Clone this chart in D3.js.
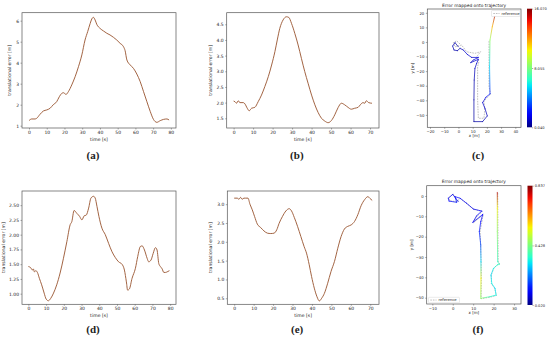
<!DOCTYPE html>
<html>
<head>
<meta charset="utf-8">
<script src="https://cdn.jsdelivr.net/npm/d3@7"></script>
<style>
  html, body { margin: 0; padding: 0; background: #fff; }
  svg text { font-family: 'DejaVu Sans', sans-serif; fill: #222; }
  .caption { font-family: 'Liberation Serif', serif; font-weight: bold; font-size: 11px; }
</style>
</head>
<body>
<svg id="chart" width="550" height="342"></svg>
<script>
// (a) translational error over time
const timeA = [0, 1.5, 3.4, 4.3, 6.2, 8.1, 10, 11.9, 13.7, 15.6, 17.1, 18.5, 19.4, 20.9, 22.2, 24.1, 26, 27.9, 29.8, 31.6, 33.1, 34.5, 35.4, 36.3, 37.3, 38.2, 40.1, 42, 43.9, 45.7, 47.6, 49.5, 51.4, 53.3, 54.2, 55.2, 57.1, 58.9, 60.8, 62.7, 64.6, 66.5, 68.4, 70.2, 72.1, 74, 75.9, 77.8, 79]
const errA = [1.24, 1.32, 1.32, 1.35, 1.54, 1.7, 1.75, 1.83, 2.0, 2.14, 2.38, 2.54, 2.57, 2.49, 2.62, 2.94, 3.33, 3.81, 4.37, 5.08, 5.48, 5.87, 6.08, 6.16, 6.03, 5.83, 5.63, 5.51, 5.4, 5.32, 5.21, 5.08, 4.92, 4.76, 4.57, 4.13, 3.89, 3.73, 3.46, 3.1, 2.62, 2.14, 1.67, 1.3, 1.16, 1.24, 1.3, 1.32, 1.27]

// (b)
const timeB = [0, 0.7, 1.5, 2.4, 3.2, 5, 5.8, 7, 8, 9.2, 10.9, 12.6, 14.3, 16, 17.8, 19.5, 21.2, 22.4, 23.7, 25.4, 27.1, 28.3, 29.7, 31.4, 33.1, 34.8, 36.5, 38.2, 40, 41.7, 43.4, 45.1, 46.8, 48.5, 50.2, 51.9, 53.6, 55.3, 57, 58.7, 60.4, 62.1, 63.9, 65, 66.4, 67.3, 68.1, 69.3, 71]
const errB = [2.05, 2.03, 1.98, 2.06, 2.0, 2.0, 1.96, 1.82, 1.74, 1.82, 1.85, 2.03, 2.24, 2.51, 2.83, 3.2, 3.63, 4.0, 4.37, 4.64, 4.74, 4.72, 4.53, 4.21, 3.84, 3.41, 2.99, 2.62, 2.24, 1.93, 1.68, 1.5, 1.41, 1.36, 1.43, 1.61, 1.84, 1.98, 1.93, 1.85, 1.79, 1.82, 1.85, 1.93, 2.0, 1.98, 2.06, 2.0, 1.98]

// (d)
const timeD = [0, 1.3, 2.3, 2.8, 3.4, 4.2, 5.1, 6.2, 7.5, 8.9, 10, 11.3, 12.6, 14.2, 16, 17.9, 19.8, 21.7, 23.6, 24.5, 25.8, 27.4, 28.9, 30.2, 31.5, 32.6, 34, 35.3, 36.8, 37.7, 38.7, 39.8, 41.5, 43.4, 45.3, 47.2, 49.1, 50.9, 52.8, 54.2, 55.3, 56, 57, 58.5, 60.4, 61.7, 63.2, 64.2, 65.5, 67, 67.9, 69.2, 70.4, 71.7, 72.6, 73.6, 74.5, 75.5, 76.4, 77.4, 78.3, 79.6]
const errD = [1.46, 1.44, 1.4, 1.42, 1.37, 1.39, 1.36, 1.26, 1.15, 1.01, 0.91, 0.88, 0.92, 1.01, 1.15, 1.35, 1.6, 1.88, 2.17, 2.22, 2.41, 2.36, 2.31, 2.25, 2.32, 2.33, 2.45, 2.62, 2.65, 2.62, 2.48, 2.31, 2.11, 2.0, 1.85, 1.71, 1.61, 1.54, 1.5, 1.4, 1.2, 1.06, 1.08, 1.26, 1.43, 1.63, 1.8, 1.81, 1.74, 1.6, 1.54, 1.57, 1.68, 1.78, 1.74, 1.51, 1.46, 1.42, 1.36, 1.36, 1.37, 1.39]

// (e)
const timeE = [0, 1.6, 2.4, 3.3, 4.1, 5, 5.9, 7.1, 8.1, 9.3, 10.5, 11.9, 13.6, 15.3, 17.1, 18.8, 20.5, 21.9, 23.1, 24.8, 26.6, 28.3, 29.5, 30.9, 32.6, 34.3, 36, 37.2, 38.6, 39.8, 41.2, 42.6, 43.8, 45, 46.4, 48.1, 49.8, 51.6, 53.3, 55, 56.7, 58.4, 60.2, 61.9, 63.6, 65.3, 67.1, 68.8, 69.7, 71]
const errE = [3.16, 3.16, 3.13, 3.18, 3.13, 3.16, 3.16, 3.16, 3.0, 2.85, 2.67, 2.47, 2.38, 2.29, 2.23, 2.22, 2.23, 2.32, 2.49, 2.67, 2.82, 2.88, 2.82, 2.65, 2.41, 2.14, 1.87, 1.7, 1.39, 1.08, 0.77, 0.54, 0.43, 0.5, 0.63, 0.9, 1.21, 1.48, 1.83, 2.14, 2.34, 2.41, 2.45, 2.54, 2.72, 2.96, 3.12, 3.2, 3.16, 3.1]

// (c) trajectory, colored by error, plus reference
const trajCX = [-0.1, -2.4, -4.1, -3.1, -0.8, 1.1, 3.4, 6.2, 9.3, 14.0, 10.4, 8.6, 14.0, 12.8, 11.6, 11.1, 10.9, 10.9, 17.0, 20.3, 18.6, 17.0, 19.3, 22.2, 21.9, 22.2, 23.8, 25.7]
const trajCY = [-3.3, -0.5, -2.8, -5.5, -6.0, -4.4, -5.5, -8.5, -10.6, -10.6, -12.4, -14.2, -11.9, -14.7, -18.1, -26.1, -39.7, -54.6, -54.6, -50.7, -45.4, -41.6, -37.9, -35.6, -16.9, 1.3, 10.4, 18.4]
const trajCErr = [0.6, 0.7, 0.8, 0.7, 0.6, 0.8, 1.0, 1.2, 1.0, 1.4, 1.1, 0.9, 1.3, 1.0, 0.9, 0.7, 0.6, 0.5, 0.6, 0.8, 1.0, 1.2, 1.5, 2.5, 5.5, 8.5, 11.5, 15.5]
const refCX = [1.1, -1.3, -3.6, -2.4, 2.2, 5.8, 11.6, 15.6, 12.8, 14.4, 13.5, 13.5, 14.0, 17.9, 18.6, 17.9, 20.3, 22.6, 21.5, 21.5]
const refCY = [-1.4, 0.8, -0.5, -3.3, -2.1, -6.7, -7.8, -6.7, -10.1, -13.5, -16.9, -39.7, -52.3, -52.3, -46.6, -40.9, -37.9, -35.9, -30.6, 1.3]
const cbarC = [0.040, 8.055, 16.070]

// (f)
const trajFX = [2.7, 0.0, -2.2, -1.8, 1.9, 1.1, 3.6, 6.8, 10.1, 14.2, 11.7, 9.8, 13.3, 14.7, 13.7, 13.0, 13.7, 13.8, 13.8, 13.7, 18.2, 21.2, 20.7, 19.1, 18.7, 19.9, 21.8, 22.8, 22.0, 21.8, 21.8, 21.8]
const trajFY = [-2.8, 0.8, -1.1, -2.5, -3.1, -0.3, -1.1, -3.6, -6.4, -7.4, -9.7, -13.0, -10.2, -9.0, -12.6, -17.5, -24.1, -32.3, -40.5, -50.3, -49.5, -48.7, -45.4, -43.0, -38.9, -35.6, -33.9, -33.6, -32.3, -17.5, -6.1, 1.8]
const trajFErr = [0.12, 0.1, 0.1, 0.12, 0.14, 0.12, 0.12, 0.1, 0.1, 0.12, 0.1, 0.1, 0.12, 0.12, 0.12, 0.14, 0.18, 0.3, 0.55, 0.45, 0.36, 0.32, 0.3, 0.32, 0.3, 0.32, 0.35, 0.36, 0.36, 0.45, 0.55, 0.8]
const refFX = [2.4, 0.2, -2.0, -1.5, 1.6, 3.8, 7.0, 10.3, 14.5, 11.9, 10.1, 14.9, 13.4, 13.9, 14.0, 13.9, 18.4, 21.4, 20.4, 18.9, 18.9, 20.2, 22.0, 22.9, 22.2, 22.0]
const refFY = [-2.6, 1.0, -0.8, -2.3, -2.8, -1.3, -3.8, -6.6, -7.6, -9.9, -13.2, -9.2, -17.3, -32.1, -40.3, -50.5, -49.7, -48.9, -45.2, -43.2, -38.7, -35.4, -33.7, -33.3, -32.0, 1.6]
const cbarF = [0.020, 0.428, 0.837]

const lineColor = '#97522e'
const spineColor = '#555'

const svg = d3.select('#chart')
const fmtMinus = f => d => (d < 0 ? '\u2212' : '') + f(Math.abs(d))

// matplotlib-like jet
function jet(t) {
  const ch = pts => {
    for (let i = 1; i < pts.length; i++) {
      if (t <= pts[i][0]) {
        const [x0, v0] = pts[i - 1]
        const [x1, v1] = pts[i]
        return v0 + ((v1 - v0) * (t - x0)) / (x1 - x0)
      }
    }
    return pts[pts.length - 1][1]
  }
  const r = ch([[0, 0], [0.35, 0], [0.66, 1], [0.89, 1], [1, 0.5]])
  const g = ch([[0, 0], [0.125, 0], [0.375, 1], [0.64, 1], [0.91, 0], [1, 0]])
  const b = ch([[0, 0.5], [0.11, 1], [0.34, 1], [0.65, 0], [1, 0]])
  return d3.rgb(r * 255, g * 255, b * 255).formatHex()
}

function styleAxis(g) {
  g.select('.domain').remove()
  g.selectAll('.tick line').attr('stroke', spineColor).attr('stroke-width', 0.5)
  g.selectAll('.tick text').style('font-size', '4.5px').attr('fill', '#333')
}

function frame(g, x0, x1, y0, y1) {
  g.append('rect')
    .attr('x', x0).attr('y', y0)
    .attr('width', x1 - x0).attr('height', y1 - y0)
    .attr('fill', 'none')
    .attr('stroke', spineColor)
    .attr('stroke-width', 0.7)
}

function errorPanel({ box, xDomain, yDomain, xTicks, yTicks, yFmt, times, errors, ylabelX, caption, captionY }) {
  const [x0, x1, y0, y1] = box
  const g = svg.append('g')
  const x = d3.scaleLinear().domain(xDomain).range([x0, x1])
  const y = d3.scaleLinear().domain(yDomain).range([y1, y0])

  g.append('path')
    .datum(times.map((t, i) => [t, errors[i]]))
    .attr('fill', 'none')
    .attr('stroke', lineColor)
    .attr('stroke-width', 0.9)
    .attr('d', d3.line().x(d => x(d[0])).y(d => y(d[1])).curve(d3.curveMonotoneX))

  g.append('g')
    .attr('transform', `translate(0,${y1})`)
    .call(d3.axisBottom(x).tickValues(xTicks).tickSize(1.5).tickPadding(1.5).tickFormat(d3.format('d')))
    .call(styleAxis)
  g.append('g')
    .attr('transform', `translate(${x0},0)`)
    .call(d3.axisLeft(y).tickValues(yTicks).tickSize(1.5).tickPadding(1.5).tickFormat(d3.format(yFmt)))
    .call(styleAxis)
  frame(g, x0, x1, y0, y1)

  g.append('text')
    .attr('x', (x0 + x1) / 2).attr('y', y1 + 12.5)
    .attr('text-anchor', 'middle')
    .style('font-size', '4.6px')
    .text('time [s]')
  g.append('text')
    .attr('transform', `translate(${ylabelX},${(y0 + y1) / 2}) rotate(-90)`)
    .attr('text-anchor', 'middle')
    .style('font-size', '4.6px')
    .text('translational error [m]')
  svg.append('text')
    .attr('class', 'caption')
    .attr('x', (x0 + x1) / 2 - 6).attr('y', captionY)
    .attr('text-anchor', 'middle')
    .text(caption)
}

function trajPanel({ box, xDomain, yDomain, xTicks, yTicks, tx, ty, terr, rx, ry, cbar, cbarBox, legendBox, caption, captionY, id }) {
  const [x0, x1, y0, y1] = box
  const g = svg.append('g')
  const x = d3.scaleLinear().domain(xDomain).range([x0, x1])
  const y = d3.scaleLinear().domain(yDomain).range([y1, y0])
  const cnorm = d3.scaleLinear().domain([cbar[0], cbar[2]]).range([0, 1]).clamp(true)
  const defs = svg.append('defs')

  // reference, dashed gray
  g.append('path')
    .datum(rx.map((v, i) => [v, ry[i]]))
    .attr('fill', 'none')
    .attr('stroke', '#8a8a8a')
    .attr('stroke-width', 0.55)
    .attr('stroke-dasharray', '1.6,1')
    .attr('d', d3.line().x(d => x(d[0])).y(d => y(d[1])))

  // estimated trajectory, each segment with a gradient between its end colors
  const segs = d3.range(tx.length - 1)
  segs.forEach(i => {
    const grad = defs.append('linearGradient')
      .attr('id', `${id}-seg${i}`)
      .attr('gradientUnits', 'userSpaceOnUse')
      .attr('x1', x(tx[i])).attr('y1', y(ty[i]))
      .attr('x2', x(tx[i + 1])).attr('y2', y(ty[i + 1]))
    grad.append('stop').attr('offset', 0).attr('stop-color', jet(cnorm(terr[i])))
    grad.append('stop').attr('offset', 1).attr('stop-color', jet(cnorm(terr[i + 1])))
  })
  g.selectAll('line.seg')
    .data(segs)
    .join('line')
    .attr('class', 'seg')
    .attr('x1', i => x(tx[i])).attr('y1', i => y(ty[i]))
    .attr('x2', i => x(tx[i + 1])).attr('y2', i => y(ty[i + 1]))
    .attr('stroke', i => `url(#${id}-seg${i})`)
    .attr('stroke-width', 0.9)
    .attr('stroke-linecap', 'round')
    .attr('opacity', 0.8)

  g.append('g')
    .attr('transform', `translate(0,${y1})`)
    .call(d3.axisBottom(x).tickValues(xTicks).tickSize(1.5).tickPadding(1.5).tickFormat(fmtMinus(d3.format('d'))))
    .call(styleAxis)
  g.append('g')
    .attr('transform', `translate(${x0},0)`)
    .call(d3.axisLeft(y).tickValues(yTicks).tickSize(1.5).tickPadding(1.5).tickFormat(fmtMinus(d3.format('d'))))
    .call(styleAxis)
  g.selectAll('.tick text').style('font-size', '3.8px')
  frame(g, x0, x1, y0, y1)

  g.append('text')
    .attr('x', (x0 + x1) / 2).attr('y', y0 - 2.5)
    .attr('text-anchor', 'middle')
    .style('font-size', '4.4px')
    .text('Error mapped onto trajectory')
  g.append('text')
    .attr('x', (x0 + x1) / 2).attr('y', y1 + 10)
    .attr('text-anchor', 'middle')
    .style('font-size', '4px')
    .text('x [m]')
  g.append('text')
    .attr('transform', `translate(${x0 - 13.5},${(y0 + y1) / 2}) rotate(-90)`)
    .attr('text-anchor', 'middle')
    .style('font-size', '4px')
    .text('y [m]')

  // legend
  const [lx, ly, lw, lh] = legendBox
  const leg = g.append('g').attr('transform', `translate(${lx},${ly})`)
  leg.append('rect')
    .attr('width', lw).attr('height', lh).attr('rx', 0.8)
    .attr('fill', '#fff').attr('stroke', '#ccc').attr('stroke-width', 0.4)
  leg.append('line')
    .attr('x1', 1.8).attr('x2', 8).attr('y1', lh / 2).attr('y2', lh / 2)
    .attr('stroke', '#8a8a8a').attr('stroke-width', 0.55).attr('stroke-dasharray', '1.6,1')
  leg.append('text')
    .attr('x', 10).attr('y', lh / 2 + 1.3)
    .style('font-size', '3.8px')
    .text('reference')

  // colorbar
  const [cx, cy0, cw, cy1] = cbarBox
  const cgrad = defs.append('linearGradient')
    .attr('id', `${id}-cbar`)
    .attr('x1', 0).attr('y1', 1).attr('x2', 0).attr('y2', 0)
  d3.range(0, 1.0001, 0.05).forEach(t => {
    cgrad.append('stop').attr('offset', t).attr('stop-color', jet(t))
  })
  g.append('rect')
    .attr('x', cx).attr('y', cy0).attr('width', cw).attr('height', cy1 - cy0)
    .attr('fill', `url(#${id}-cbar)`)
  const cs = d3.scaleLinear().domain([cbar[0], cbar[2]]).range([cy1, cy0])
  g.append('g')
    .attr('transform', `translate(${cx + cw},0)`)
    .call(d3.axisRight(cs).tickValues(cbar).tickSize(1.2).tickPadding(1).tickFormat(d3.format('.3f')))
    .call(styleAxis)
    .call(a => a.selectAll('.tick text').style('font-size', '3.6px'))

  svg.append('text')
    .attr('class', 'caption')
    .attr('x', 478).attr('y', captionY)
    .attr('text-anchor', 'middle')
    .text(caption)
}

errorPanel({
  box: [22, 176, 12.7, 128],
  xDomain: [-3.95, 82.9], yDomain: [0.89, 6.38],
  xTicks: d3.range(0, 81, 10), yTicks: [1, 2, 3, 4, 5, 6], yFmt: 'd',
  times: timeA, errors: errA, ylabelX: 11, caption: '(a)', captionY: 159,
})
errorPanel({
  box: [226.7, 379, 12.7, 128],
  xDomain: [-3.55, 74.6], yDomain: [1.19, 4.87],
  xTicks: d3.range(0, 71, 10), yTicks: [1.5, 2, 2.5, 3, 3.5, 4, 4.5], yFmt: '.1f',
  times: timeB, errors: errB, ylabelX: 212, caption: '(b)', captionY: 159,
})
errorPanel({
  box: [22, 176, 191, 304.3],
  xDomain: [-3.6, 83.3], yDomain: [0.82, 2.74],
  xTicks: d3.range(0, 81, 10), yTicks: [1, 1.25, 1.5, 1.75, 2, 2.25, 2.5], yFmt: '.2f',
  times: timeD, errors: errD, ylabelX: 4.5, caption: '(d)', captionY: 333,
})
errorPanel({
  box: [227.3, 379, 191, 304.3],
  xDomain: [-3.55, 74.5], yDomain: [0.34, 3.35],
  xTicks: d3.range(0, 71, 10), yTicks: [0.5, 1, 1.5, 2, 2.5, 3], yFmt: '.1f',
  times: timeE, errors: errE, ylabelX: 212, caption: '(e)', captionY: 333,
})
trajPanel({
  id: 'c',
  box: [427.3, 521, 9, 127.3],
  xDomain: [-21.9, 44], yDomain: [-58.5, 22.6],
  xTicks: d3.range(-20, 41, 10), yTicks: d3.range(-50, 21, 10),
  tx: trajCX, ty: trajCY, terr: trajCErr, rx: refCX, ry: refCY,
  cbar: cbarC, cbarBox: [527, 8.7, 5, 127.3],
  legendBox: [491.5, 10.5, 28.5, 6],
  caption: '(c)', captionY: 159,
})
trajPanel({
  id: 'f',
  box: [426.7, 521, 185.7, 304],
  xDomain: [-12.75, 33.4], yDomain: [-53.1, 5.07],
  xTicks: d3.range(-10, 31, 10), yTicks: d3.range(-50, 1, 10),
  tx: trajFX, ty: trajFY, terr: trajFErr, rx: refFX, ry: refFY,
  cbar: cbarF, cbarBox: [527.5, 185.7, 5, 305],
  legendBox: [428.5, 297.3, 31, 5.5],
  caption: '(f)', captionY: 333,
})
</script>
</body>
</html>
